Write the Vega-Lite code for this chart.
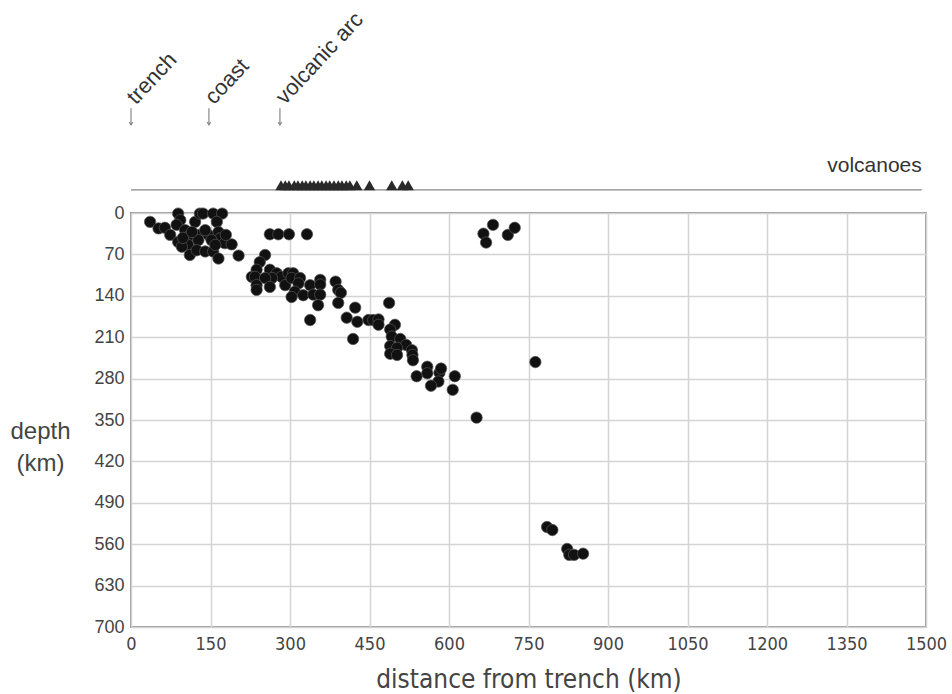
{
  "$schema": "https://vega.github.io/schema/vega-lite/v6.json",
  "width": 795,
  "height": 414,
  "autosize": {"type": "none"},
  "padding": {"left": 131, "top": 213, "right": 26, "bottom": 67},
  "background": "white",
  "config": {
    "view": {"stroke": "#999", "strokeWidth": 2},
    "axis": {"grid": true, "gridColor": "#d4d4d4", "gridWidth": 1.5, "ticks": false, "domain": false, "labelColor": "#444", "titleColor": "#444", "titleFontWeight": "normal", "labelOverlap": false, "labelFlush": false}
  },
  "datasets": {
    "quakes": [
      {"distance": 36, "depth": 15}, {"distance": 52, "depth": 26}, {"distance": 64, "depth": 25}, {"distance": 74, "depth": 37},
      {"distance": 89, "depth": 1}, {"distance": 93, "depth": 12}, {"distance": 86, "depth": 20}, {"distance": 102, "depth": 29},
      {"distance": 121, "depth": 15}, {"distance": 130, "depth": 1}, {"distance": 136, "depth": 1}, {"distance": 155, "depth": 1},
      {"distance": 172, "depth": 1}, {"distance": 162, "depth": 15}, {"distance": 89, "depth": 49}, {"distance": 108, "depth": 40},
      {"distance": 108, "depth": 54}, {"distance": 127, "depth": 37}, {"distance": 127, "depth": 46}, {"distance": 146, "depth": 37},
      {"distance": 165, "depth": 32}, {"distance": 168, "depth": 43}, {"distance": 152, "depth": 46}, {"distance": 177, "depth": 51},
      {"distance": 190, "depth": 53}, {"distance": 111, "depth": 71}, {"distance": 124, "depth": 63}, {"distance": 140, "depth": 65},
      {"distance": 155, "depth": 65}, {"distance": 165, "depth": 77}, {"distance": 159, "depth": 54}, {"distance": 203, "depth": 72},
      {"distance": 96, "depth": 57}, {"distance": 98, "depth": 42}, {"distance": 140, "depth": 29}, {"distance": 115, "depth": 32},
      {"distance": 179, "depth": 37},
      {"distance": 262, "depth": 36}, {"distance": 278, "depth": 36}, {"distance": 298, "depth": 36}, {"distance": 332, "depth": 36},
      {"distance": 253, "depth": 71}, {"distance": 243, "depth": 83}, {"distance": 237, "depth": 96}, {"distance": 228, "depth": 108},
      {"distance": 234, "depth": 108}, {"distance": 262, "depth": 96}, {"distance": 275, "depth": 102}, {"distance": 284, "depth": 108},
      {"distance": 266, "depth": 110}, {"distance": 253, "depth": 110}, {"distance": 237, "depth": 122}, {"distance": 237, "depth": 130},
      {"distance": 262, "depth": 125}, {"distance": 291, "depth": 122}, {"distance": 297, "depth": 102}, {"distance": 306, "depth": 102},
      {"distance": 303, "depth": 110}, {"distance": 319, "depth": 110}, {"distance": 316, "depth": 119}, {"distance": 309, "depth": 133},
      {"distance": 303, "depth": 142}, {"distance": 325, "depth": 139}, {"distance": 338, "depth": 122}, {"distance": 344, "depth": 138},
      {"distance": 357, "depth": 113}, {"distance": 357, "depth": 121}, {"distance": 357, "depth": 138}, {"distance": 353, "depth": 156},
      {"distance": 338, "depth": 181}, {"distance": 386, "depth": 116}, {"distance": 391, "depth": 130}, {"distance": 396, "depth": 135},
      {"distance": 391, "depth": 152}, {"distance": 423, "depth": 160}, {"distance": 407, "depth": 177}, {"distance": 427, "depth": 184},
      {"distance": 419, "depth": 213}, {"distance": 448, "depth": 181}, {"distance": 457, "depth": 181}, {"distance": 467, "depth": 180},
      {"distance": 467, "depth": 189}, {"distance": 487, "depth": 152}, {"distance": 498, "depth": 189}, {"distance": 489, "depth": 197},
      {"distance": 492, "depth": 209}, {"distance": 508, "depth": 213}, {"distance": 519, "depth": 223}, {"distance": 489, "depth": 225},
      {"distance": 502, "depth": 228}, {"distance": 530, "depth": 232}, {"distance": 489, "depth": 238}, {"distance": 502, "depth": 240},
      {"distance": 531, "depth": 240}, {"distance": 532, "depth": 249}, {"distance": 539, "depth": 276}, {"distance": 559, "depth": 260},
      {"distance": 559, "depth": 271}, {"distance": 582, "depth": 270}, {"distance": 585, "depth": 263}, {"distance": 580, "depth": 285},
      {"distance": 566, "depth": 292}, {"distance": 611, "depth": 276}, {"distance": 607, "depth": 299}, {"distance": 652, "depth": 346},
      {"distance": 763, "depth": 252},
      {"distance": 665, "depth": 35}, {"distance": 670, "depth": 50}, {"distance": 683, "depth": 20}, {"distance": 711, "depth": 37},
      {"distance": 724, "depth": 25},
      {"distance": 785, "depth": 531}, {"distance": 795, "depth": 536}, {"distance": 823, "depth": 568}, {"distance": 827, "depth": 578},
      {"distance": 836, "depth": 578}, {"distance": 853, "depth": 576}
    ],
    "volcanoes": [
      {"distance": 283}, {"distance": 291}, {"distance": 298}, {"distance": 308}, {"distance": 315}, {"distance": 323},
      {"distance": 330}, {"distance": 338}, {"distance": 345}, {"distance": 353}, {"distance": 360}, {"distance": 368},
      {"distance": 375}, {"distance": 383}, {"distance": 391}, {"distance": 398}, {"distance": 406}, {"distance": 413},
      {"distance": 426}, {"distance": 450}, {"distance": 492}, {"distance": 512}, {"distance": 523}
    ],
    "markers": [
      {"distance": 0, "label": "trench"},
      {"distance": 147, "label": "coast"},
      {"distance": 281, "label": "volcanic arc"}
    ]
  },
  "layer": [
    {
      "data": {"name": "quakes"},
      "mark": {"type": "point", "shape": "circle", "filled": true, "size": 130, "color": "#111", "stroke": "#555", "strokeWidth": 0.7, "opacity": 1},
      "encoding": {
        "x": {"field": "distance", "type": "quantitative", "scale": {"domain": [0, 1500], "nice": false, "zero": false},
          "axis": {"values": [0, 150, 300, 450, 600, 750, 900, 1050, 1200, 1350, 1500], "format": "d", "labelFont": "DejaVu Sans Condensed, Liberation Sans, sans-serif", "labelFontSize": 18, "labelPadding": 8, "titleFont": "DejaVu Sans Condensed, Liberation Sans, sans-serif", "titleFontSize": 26, "titlePadding": 13},
          "title": "distance from trench (km)"},
        "y": {"field": "depth", "type": "quantitative", "scale": {"domain": [0, 700], "nice": false, "zero": false, "reverse": true},
          "axis": {"values": [0, 70, 140, 210, 280, 350, 420, 490, 560, 630, 700], "format": "d", "labelFont": "Liberation Sans, sans-serif", "labelFontSize": 18, "labelPadding": 7, "titleFont": "Liberation Sans, sans-serif", "titleFontSize": 24, "titleAngle": 0, "titleAlign": "center", "titleBaseline": "middle", "titleX": -91, "titleY": 218, "titleLineHeight": 32},
          "title": ["depth", "(km)"]}
      }
    },
    {
      "data": {"values": [{}]},
      "mark": {"type": "rule", "color": "#888", "strokeWidth": 1.2},
      "encoding": {
        "x": {"datum": 0, "type": "quantitative"},
        "x2": {"datum": 1492},
        "y": {"datum": -39, "type": "quantitative"}
      }
    },
    {
      "data": {"name": "volcanoes"},
      "mark": {"type": "point", "shape": "triangle-up", "filled": true, "size": 130, "color": "#2a2a2a", "opacity": 1},
      "encoding": {
        "x": {"field": "distance", "type": "quantitative", "title": "distance from trench (km)"},
        "y": {"datum": -47, "type": "quantitative"}
      }
    },
    {
      "data": {"name": "markers"},
      "mark": {"type": "rule", "color": "#888", "strokeWidth": 1.2},
      "encoding": {
        "x": {"field": "distance", "type": "quantitative", "title": "distance from trench (km)"},
        "y": {"datum": -177, "type": "quantitative"},
        "y2": {"datum": -149}
      }
    },
    {
      "data": {"name": "markers"},
      "mark": {"type": "point", "shape": "M-1,-1.6L0,0L1,-1.6", "filled": false, "size": 12, "stroke": "#888", "strokeWidth": 1.2, "opacity": 1},
      "encoding": {
        "x": {"field": "distance", "type": "quantitative", "title": "distance from trench (km)"},
        "y": {"datum": -149, "type": "quantitative"}
      }
    },
    {
      "data": {"name": "markers"},
      "mark": {"type": "text", "angle": -47, "align": "left", "baseline": "middle", "font": "Liberation Sans, sans-serif", "fontSize": 22, "color": "#333"},
      "encoding": {
        "x": {"field": "distance", "type": "quantitative", "title": "distance from trench (km)"},
        "y": {"datum": -190, "type": "quantitative"},
        "text": {"field": "label"}
      }
    },
    {
      "data": {"values": [{"label": "volcanoes"}]},
      "mark": {"type": "text", "align": "right", "baseline": "middle", "font": "Liberation Sans, sans-serif", "fontSize": 21, "color": "#333"},
      "encoding": {
        "x": {"datum": 1492, "type": "quantitative"},
        "y": {"datum": -80, "type": "quantitative"},
        "text": {"field": "label"}
      }
    }
  ]
}
